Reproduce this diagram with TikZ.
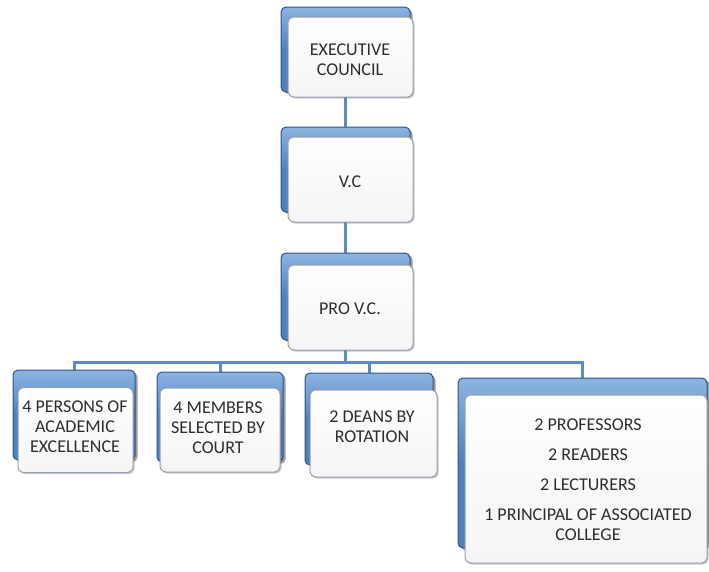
\documentclass[tikz,border=0pt]{standalone}
\usepackage{fontspec}
\setmainfont{Carlito}
\usetikzlibrary{shadows,backgrounds}
\definecolor{bblue}{RGB}{79,129,189}
\definecolor{dblue}{RGB}{45,85,135}
\definecolor{lblue}{RGB}{91,140,200}
\definecolor{hblue}{RGB}{140,180,225}
\definecolor{txt}{RGB}{45,45,45}
\definecolor{fborder}{RGB}{150,160,175}
\tikzset{
  backbox/.style={draw=dblue, line width=1pt, top color=hblue, bottom color=bblue, middle color=bblue, rounded corners=5pt, inner sep=0pt,
    drop shadow={shadow xshift=2.5pt, shadow yshift=-2pt, opacity=0.55, fill=black!70}},
  frontbox/.style={draw=fborder, line width=1pt, top color=white, bottom color=black!4, rounded corners=6pt,
    inner sep=0pt, align=center, text=txt, font=\fontsize{18}{19}\selectfont,
    drop shadow={shadow xshift=1.5pt, shadow yshift=-1.5pt, opacity=0.35, fill=black!60}},
  lbl/.style={text=txt, font=\fontsize{18}{20}\selectfont, align=center, inner sep=0pt},
  conn/.style={draw=lblue, line width=3pt}
}
\begin{document}
\begin{tikzpicture}[x=1pt,y=-1pt]
\useasboundingbox (0,0) rectangle (709,571);
% back boxes
\node[backbox, minimum width=129pt, minimum height=85pt] (b1) at (345.5,49.5) {};
\node[backbox, minimum width=129pt, minimum height=85pt] (b2) at (345.5,169.5) {};
\node[backbox, minimum width=129pt, minimum height=87pt] (b3) at (345.5,296.5) {};
\node[backbox, minimum width=122pt, minimum height=90pt] (bA) at (74,415) {};
\node[backbox, minimum width=126pt, minimum height=90pt] (bB) at (220,417) {};
\node[backbox, minimum width=128pt, minimum height=92pt] (bC) at (369,419) {};
\node[backbox, minimum width=249pt, minimum height=170pt] (bD) at (582.5,463) {};
% front boxes
\node[frontbox, minimum width=125pt, minimum height=80pt] (f1) at (350.5,57) {};
\node[lbl] (t1) at (350,60) {EXECUTIVE\\COUNCIL};
\node[frontbox, minimum width=125pt, minimum height=85pt] (f2) at (350.5,179.5) {};
\node[lbl] (t2) at (350,182) {V.C};
\node[frontbox, minimum width=125pt, minimum height=85pt] (f3) at (350.5,307.5) {};
\node[lbl] (t3) at (350,309) {PRO V.C.};
\node[frontbox, minimum width=115pt, minimum height=85pt] (fA) at (75.5,430) {};
\node[lbl] (tA) at (75,427) {4 PERSONS OF\\ACADEMIC\\EXCELLENCE};
\node[frontbox, minimum width=120pt, minimum height=84pt] (fB) at (220,430) {};
\node[lbl] (tB) at (218,428) {4 MEMBERS\\SELECTED BY\\COURT};
\node[frontbox, minimum width=127pt, minimum height=87pt] (fC) at (373.5,433.5) {};
\node[lbl] (tC) at (372,427) {2 DEANS BY\\ROTATION};
\node[frontbox, minimum width=242pt, minimum height=168pt] (fD) at (586,479) {};
\node[lbl] (tD1) at (588,425) {2 PROFESSORS};
\node[lbl] (tD2) at (588,455) {2 READERS};
\node[lbl] (tD3) at (588,485) {2 LECTURERS};
\node[lbl] (tD4) at (588,525) {1 PRINCIPAL OF ASSOCIATED\\COLLEGE};
% connectors
\coordinate (bus) at (0,362);
\begin{scope}[on background layer]
\draw[conn] (b1.south) -- (b2.north);
\draw[conn] (b2.south) -- (b3.north);
\draw[conn] (b3.south) -- (b3.south |- bus);
\draw[conn] (bA.north) |- (bus -| bD.north) -- (bD.north);
\draw[conn] (bB.north) -- (bB.north |- bus);
\draw[conn] (bC.north) -- (bC.north |- bus);
\end{scope}
\end{tikzpicture}
\end{document}
